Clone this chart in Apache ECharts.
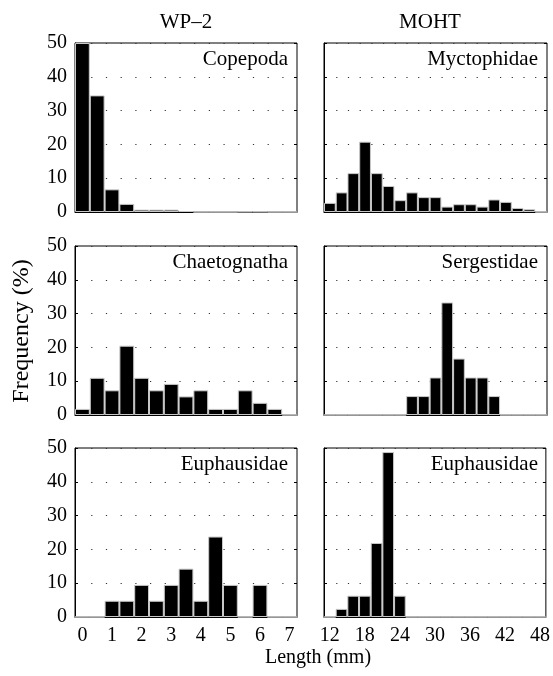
<!DOCTYPE html>
<html>
<head>
<meta charset="utf-8">
<script src="https://cdn.jsdelivr.net/npm/echarts@6/dist/echarts.min.js"></script>
<style>
  html, body { margin: 0; padding: 0; background: #fff; }
  #chart { width: 553px; height: 676px; }
</style>
</head>
<body>
<div id="chart"></div>
<script>
// Length bins (bin centres)
var wpBins = ['0','0.5','1','1.5','2','2.5','3','3.5','4','4.5','5','5.5','6','6.5','7'];
var mohtBins = ['12','14','16','18','20','22','24','26','28','30','32','34','36','38','40','42','44','46','48'];

// Frequency (%) per bin, WP-2 net
var copepoda     = [50, 34.5, 6.7, 2.4, 0.7, 0.7, 0.7, 0.3, 0, 0, 0, 0.1, 0.1, 0, 0];
var chaetognatha = [1.8, 11, 7.3, 20.5, 11, 7.3, 9.2, 5.5, 7.3, 1.8, 1.8, 7.3, 3.6, 1.8, 0];
var euphWP       = [0, 0, 4.8, 4.8, 9.5, 4.8, 9.5, 14.3, 4.8, 23.8, 9.5, 0, 9.5, 0, 0];

// Frequency (%) per bin, MOHT trawl
var myctophidae  = [2.7, 5.8, 11.5, 20.8, 11.5, 7.7, 3.5, 5.8, 4.4, 4.4, 1.6, 2.3, 2.3, 1.6, 3.7, 3.0, 1.2, 0.8, 0];
var sergestidae  = [0, 0, 0, 0, 0, 0, 0, 5.6, 5.6, 11.1, 33.3, 16.7, 11.1, 11.1, 5.6, 0, 0, 0, 0];
var euphMOHT     = [0, 2.4, 6.3, 6.3, 21.9, 48.8, 6.3, 0, 0, 0, 0, 0, 0, 0, 0, 0, 0, 0, 0];

var colTitles = ['WP\u20132', 'MOHT'];
var yTicks = { min: 0, max: 50, step: 10 };

var panels = [
  { name: 'Copepoda',     col: 0, row: 0, data: copepoda },
  { name: 'Myctophidae',  col: 1, row: 0, data: myctophidae },
  { name: 'Chaetognatha', col: 0, row: 1, data: chaetognatha },
  { name: 'Sergestidae',  col: 1, row: 1, data: sergestidae },
  { name: 'Euphausidae',  col: 0, row: 2, data: euphWP },
  { name: 'Euphausidae',  col: 1, row: 2, data: euphMOHT }
];

var FONT = '"Liberation Serif", "Times New Roman", serif';
var colLeft = [75, 324], colWidth = [222, 223];
var rowTop = [43, 246, 448], rowHeight = 169;

var grids = [], xAxes = [], yAxes = [], mirrorX = [], mirrorY = [], series = [], graphics = [];

panels.forEach(function (p, i) {
  var left = colLeft[p.col], top = rowTop[p.row];
  grids.push({
    left: left, top: top, width: colWidth[p.col], height: rowHeight,
    show: true, borderColor: '#000', borderWidth: 1, backgroundColor: 'transparent'
  });
  var cats = p.col === 0 ? wpBins : mohtBins;
  var lblInterval = p.col === 0 ? 1 : 2;
  var tick = { inside: true, alignWithLabel: true, interval: lblInterval, length: 3, lineStyle: { color: '#000' } };
  // bottom axis with labels
  xAxes.push({
    gridIndex: i, type: 'category', data: cats, boundaryGap: true, position: 'bottom',
    axisLine: { lineStyle: { color: '#000', width: 1 } },
    axisTick: tick,
    axisLabel: {
      show: p.row === 2, interval: lblInterval, margin: 9,
      fontFamily: FONT, fontSize: 20, color: '#000'
    },
    splitLine: { show: false }
  });
  // top edge of the box carries the same ticks
  mirrorX.push({
    gridIndex: i, type: 'category', data: cats, boundaryGap: true, position: 'top',
    axisLine: { show: false }, axisTick: tick, axisLabel: { show: false }, splitLine: { show: false }
  });
  yAxes.push({
    gridIndex: i, type: 'value', min: yTicks.min, max: yTicks.max, interval: yTicks.step,
    axisLine: { show: true, lineStyle: { color: '#000', width: 1 } },
    axisTick: { show: true, inside: true, length: 3, lineStyle: { color: '#000' } },
    axisLabel: {
      show: p.col === 0, margin: 8,
      fontFamily: FONT, fontSize: 20, color: '#000'
    },
    splitLine: {
      show: true,
      lineStyle: {
        color: '#333', width: 1,
        type: p.col === 0 ? [1.2, 13.5] : [1.2, 10.5],
        dashOffset: p.col === 0 ? -1.5 : -0.5
      }
    }
  });
  mirrorY.push({
    gridIndex: i, type: 'value', min: yTicks.min, max: yTicks.max, interval: yTicks.step, position: 'right',
    axisLine: { show: false },
    axisTick: { show: true, inside: true, length: 3, lineStyle: { color: '#000' } },
    axisLabel: { show: false }, splitLine: { show: false }
  });
  series.push({
    type: 'bar', xAxisIndex: i, yAxisIndex: i, data: p.data,
    barCategoryGap: '0%', barGap: '0%',
    itemStyle: { color: '#000', borderColor: '#c8c8c8', borderWidth: 1 },
    silent: true, animation: false
  });
  graphics.push({
    type: 'text', x: left + colWidth[p.col] - 9, y: top + 16,
    style: { text: p.name, font: '21px ' + FONT, fill: '#000', textAlign: 'right', textVerticalAlign: 'middle' },
    z: 100
  });
});

// column headings
graphics.push({ type: 'text', x: 186, y: 22,
  style: { text: colTitles[0], font: '21px ' + FONT, fill: '#000', textAlign: 'center', textVerticalAlign: 'middle' } });
graphics.push({ type: 'text', x: 430, y: 22,
  style: { text: colTitles[1], font: '21px ' + FONT, fill: '#000', textAlign: 'center', textVerticalAlign: 'middle' } });
// shared axis titles
graphics.push({ type: 'text', x: 318, y: 658,
  style: { text: 'Length (mm)', font: '20px ' + FONT, fill: '#000', textAlign: 'center', textVerticalAlign: 'middle' } });
graphics.push({ type: 'text', x: 22, y: 331, rotation: Math.PI / 2,
  style: { text: 'Frequency (%)', font: '24px ' + FONT, fill: '#000', textAlign: 'center', textVerticalAlign: 'middle' } });

var chart = echarts.init(document.getElementById('chart'), null, { renderer: 'canvas' });
chart.setOption({
  animation: false,
  backgroundColor: '#fff',
  grid: grids,
  xAxis: xAxes.concat(mirrorX),
  yAxis: yAxes.concat(mirrorY),
  series: series,
  graphic: graphics
});
</script>
</body>
</html>
